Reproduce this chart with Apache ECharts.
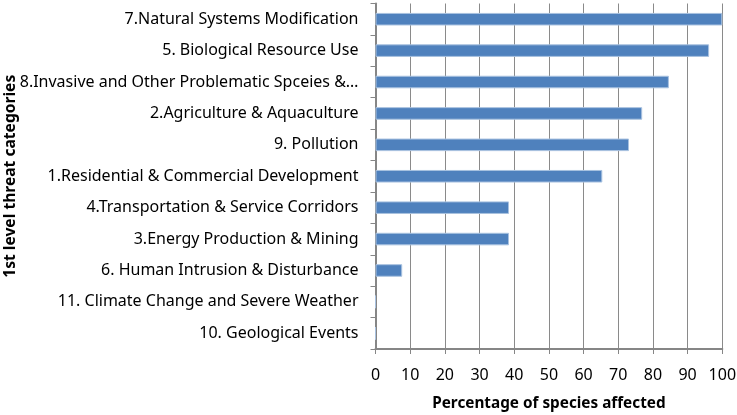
<!DOCTYPE html>
<html><head><meta charset="utf-8">
<script src="https://cdn.jsdelivr.net/npm/echarts@6/dist/echarts.min.js"></script>
<style>html,body{margin:0;padding:0;background:#fff}#c{width:737px;height:415px}</style>
</head><body><div id="c"></div>
<script>
const categories = [
  "7.Natural Systems Modification",
  "5. Biological Resource Use",
  "8.Invasive and Other Problematic Spceies &…",
  "2.Agriculture & Aquaculture",
  "9. Pollution",
  "1.Residential & Commercial Development",
  "4.Transportation & Service Corridors",
  "3.Energy Production & Mining",
  "6. Human Intrusion & Disturbance",
  "11. Climate Change and Severe Weather",
  "10. Geological Events"
];
const values = [100, 96.2, 84.6, 76.9, 73.1, 65.4, 38.5, 38.5, 7.7, 0, 0];
const xTicks = [0, 10, 20, 30, 40, 50, 60, 70, 80, 90, 100];

const font = "Noto Sans";
const chart = echarts.init(document.getElementById('c'), null, {renderer: 'canvas'});
chart.setOption({
  animation: false,
  grid: {left: 375.5, right: 14.7, top: 3.5, bottom: 66, containLabel: false, outerBoundsMode: 'none'},
  xAxis: {
    type: 'value', min: xTicks[0], max: xTicks[xTicks.length - 1], interval: 10,
    name: 'Percentage of species affected', nameLocation: 'middle', nameGap: 47, nameMoveOverlap: false,
    nameTextStyle: {fontFamily: font, fontSize: 15.3, fontWeight: 'bold', color: '#000'},
    axisLine: {show: true, lineStyle: {color: '#868686', width: 2}},
    axisTick: {show: true, length: 5, lineStyle: {color: '#868686'}},
    axisLabel: {fontFamily: font, fontSize: 16, color: '#000', margin: 18},
    splitLine: {show: true, lineStyle: {color: '#8a8a8a', width: 1}}
  },
  yAxis: {
    type: 'category', data: categories, inverse: true,
    name: '1st level threat categories', nameLocation: 'middle', nameGap: 357, nameRotate: 90, nameMoveOverlap: false,
    nameTextStyle: {fontFamily: font, fontSize: 15.6, fontWeight: 'bold', color: '#000'},
    axisLine: {show: true, lineStyle: {color: '#868686', width: 2}},
    axisTick: {show: true, length: 5, alignWithLabel: false, lineStyle: {color: '#868686'}},
    axisLabel: {fontFamily: font, fontSize: 16, color: '#000', margin: 17},
    splitLine: {show: false}
  },
  series: [{
    type: 'bar', data: values, barWidth: '40%',
    itemStyle: {color: '#4F81BD', borderColor: '#a9c2e0', borderWidth: 1}
  }]
});
</script></body></html>
